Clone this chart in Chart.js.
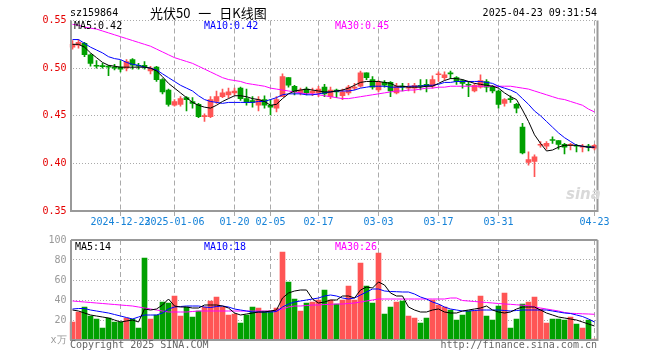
<!DOCTYPE html>
<html>
<head>
<meta charset="utf-8">
<script src="https://cdn.jsdelivr.net/npm/chart.js@4.4.1/dist/chart.umd.min.js"></script>
<style>
body { margin: 0; background: #fff; }
#wrap { position: relative; width: 660px; height: 360px; overflow: hidden;
        font-family: 'DejaVu Sans Mono', monospace; font-size: 10px; line-height: 10px; }
#wrap canvas { position: absolute; left: 0; }
.t { position: absolute; white-space: pre; }
</style>
</head>
<body>
<div id="wrap">
  <canvas id="kline" width="660" height="230" style="top:0"></canvas>
  <canvas id="vol" width="660" height="130" style="top:230px"></canvas>

  <div class="t" style="left:70px;top:8px">sz159864</div>
  <div class="t" style="left:150px;top:5px;font-family:'Noto Sans CJK SC';font-size:13px;line-height:16px;word-spacing:5px">光伏50 一 日K线图</div>
  <div class="t" style="right:63px;top:8px">2025-04-23 09:31:54</div>

  <div class="t" id="ma5Txt" style="left:74px;top:21px;color:#000"></div>
  <div class="t" id="ma10Txt" style="left:204px;top:21px;color:#00f"></div>
  <div class="t" id="ma30Txt" style="left:335px;top:21px;color:#f0f"></div>

  <div class="t" style="left:566px;top:186px;font-family:'DejaVu Sans';font-style:italic;font-weight:bold;font-size:15px;line-height:16px;color:#d9d9d9">sina</div>

  <div class="t" id="vma5Txt" style="left:75px;top:242px;color:#000"></div>
  <div class="t" id="vma10Txt" style="left:204px;top:242px;color:#00f"></div>
  <div class="t" id="vma30Txt" style="left:335px;top:242px;color:#f0f"></div>

  <div class="t" style="left:70px;top:340px;color:#666">Copyright 2025 SINA.COM</div>
  <div class="t" style="right:63px;top:340px;color:#666">http://finance.sina.com.cn</div>
</div>

<script>
// trading days shown
var dates = [
  '2024-12-11','2024-12-12','2024-12-13','2024-12-16','2024-12-17','2024-12-18','2024-12-19','2024-12-20',
  '2024-12-23','2024-12-24','2024-12-25','2024-12-26','2024-12-27','2024-12-30','2024-12-31',
  '2025-01-02','2025-01-03','2025-01-06','2025-01-07','2025-01-08','2025-01-09','2025-01-10',
  '2025-01-13','2025-01-14','2025-01-15','2025-01-16','2025-01-17',
  '2025-01-20','2025-01-21','2025-01-22','2025-01-23','2025-01-24','2025-01-27',
  '2025-02-05','2025-02-06','2025-02-07','2025-02-10','2025-02-11','2025-02-12','2025-02-13','2025-02-14',
  '2025-02-17','2025-02-18','2025-02-19','2025-02-20','2025-02-21',
  '2025-02-24','2025-02-25','2025-02-26','2025-02-27','2025-02-28',
  '2025-03-03','2025-03-04','2025-03-05','2025-03-06','2025-03-07',
  '2025-03-10','2025-03-11','2025-03-12','2025-03-13','2025-03-14',
  '2025-03-17','2025-03-18','2025-03-19','2025-03-20','2025-03-21',
  '2025-03-24','2025-03-25','2025-03-26','2025-03-27','2025-03-28',
  '2025-03-31','2025-04-01','2025-04-02','2025-04-03',
  '2025-04-07','2025-04-08','2025-04-09','2025-04-10','2025-04-11',
  '2025-04-14','2025-04-15','2025-04-16','2025-04-17','2025-04-18',
  '2025-04-21','2025-04-22','2025-04-23'
];
var tickDates  = ['2024-12-23','2025-01-06','2025-01-20','2025-02-05','2025-02-17','2025-03-03','2025-03-17','2025-03-31','2025-04-23'];
var tickLabels = ['2024-12-23','2025-01-06','01-20','02-05','02-17','03-03','03-17','03-31','04-23'];

var opens = [
  .522,.524,.526,.514,.503,.5025,.502,.501,.501,.500,
  .509,.503,.503,.497,.501,.488,.477,.461,.462,.469,
  .465,.462,.449,.449,.465,.470,.472,.474,.479,.468,
  .466,.461,.467,.461,.458,.470,.490,.481,.474,.478,
  .474,.474,.480,.470,.477,.471,.474,.479,.481,.495,
  .488,.477,.485,.485,.474,.481,.479,.479,.482,.483,
  .481,.493,.490,.495,.490,.487,.483,.476,.480,.486,
  .481,.476,.463,.468,.462,.438,.401,.402,.419,.418,
  .425,.424,.420,.419,.419,.417,.418,.416
];
var highs = [
  .529,.530,.527,.515,.508,.505,.503,.504,.508,.509,
  .510,.505,.507,.502,.502,.489,.478,.467,.470,.470,
  .469,.463,.452,.470,.476,.478,.479,.479,.480,.478,
  .470,.470,.471,.467,.470,.494,.490,.482,.479,.480,
  .479,.481,.483,.480,.478,.478,.482,.484,.497,.495,
  .491,.487,.487,.486,.484,.484,.484,.484,.488,.488,
  .492,.496,.496,.497,.491,.488,.486,.484,.493,.488,
  .482,.477,.468,.471,.463,.442,.412,.409,.423,.423,
  .428,.424,.421,.421,.420,.420,.420,.420
];
var lows = [
  .520,.521,.512,.502,.500,.500,.492,.498,.496,.497,
  .499,.499,.499,.494,.486,.473,.460,.460,.460,.455,
  .458,.448,.444,.448,.463,.469,.469,.472,.466,.461,
  .459,.455,.458,.451,.454,.470,.480,.472,.472,.472,
  .471,.470,.470,.468,.469,.467,.472,.477,.480,.488,
  .478,.475,.480,.470,.473,.476,.476,.474,.477,.475,
  .479,.486,.488,.489,.483,.479,.470,.475,.479,.475,
  .474,.458,.460,.464,.453,.410,.398,.386,.417,.415,
  .421,.415,.410,.414,.412,.412,.413,.414
];
var closes = [
  .525,.527,.514,.505,.502,.5015,.501,.500,.499,.507,
  .503,.502,.501,.500,.488,.475,.462,.465,.468,.467,
  .463,.449,.450,.467,.470,.474,.475,.476,.468,.464,
  .464,.467,.461,.459,.467,.491,.482,.475,.477,.474,
  .476,.478,.473,.477,.475,.475,.480,.480,.495,.490,
  .480,.485,.482,.476,.481,.480,.481,.482,.481,.481,
  .488,.494,.493,.494,.486,.484,.482,.482,.487,.480,
  .476,.462,.467,.467,.458,.411,.404,.407,.420,.421,
  .424,.420,.417,.420,.418,.418,.417,.419
];

var ma5 = [
  .525,.525,.522,.516,.511,.506,.503,.502,.501,.501,
  .501,.501,.501,.500,.497,.491,.484,.479,.474,.469,
  .464,.461,.459,.458,.461,.465,.468,.471,.471,.470,
  .468,.467,.465,.461,.462,.468,.473,.476,.477,.478,
  .477,.476,.475,.475,.476,.477,.479,.482,.485,.486,
  .486,.486,.485,.484,.481,.481,.480,.480,.480,.481,
  .481,.484,.487,.489,.489,.488,.486,.484,.483,.482,
  .481,.479,.474,.470,.467,.456,.444,.430,.421,.413,
  .414,.417,.419,.419,.419,.418,.417,.417
];
var ma10 = [
  .530,.530,.526,.522,.519,.516,.512,.510,.509,.506,
  .504,.503,.501,.500,.498,.494,.490,.486,.482,.479,
  .476,.471,.467,.465,.464,.463,.464,.464,.464,.464,
  .464,.465,.465,.467,.469,.472,.473,.473,.473,.472,
  .472,.473,.474,.475,.476,.476,.476,.477,.479,.480,
  .481,.481,.481,.480,.480,.480,.481,.481,.481,.482,
  .482,.483,.485,.485,.486,.486,.486,.486,.486,.485,
  .484,.481,.479,.477,.474,.468,.462,.455,.450,.444,
  .438,.432,.427,.423,.419,.418,.417,.417
];
var ma30 = [
  .546,.545,.543,.542,.541,.539,.537,.535,.533,.531,
  .529,.527,.525,.523,.520,.517,.514,.511,.509,.507,
  .505,.502,.499,.496,.493,.490,.488,.487,.486,.484,
  .483,.482,.481,.479,.478,.477,.476,.475,.474,.473,
  .473,.472,.471,.470,.469,.468,.468,.469,.470,.471,
  .472,.473,.474,.475,.476,.476,.477,.477,.478,.479,
  .479,.480,.480,.481,.481,.481,.481,.481,.481,.481,
  .481,.481,.481,.481,.480,.479,.478,.476,.474,.472,
  .470,.468,.467,.465,.463,.461,.457,.454
];

// volume, unit: 万
var volumes = [
  18,28,33,24,21,12,22,18,18,22,
  21,12,82,21,25,38,37,44,24,33,
  23,29,33,39,43,33,25,26,17,25,
  33,32,29,29,32,88,58,41,29,37,
  38,40,50,40,36,40,54,40,77,54,
  37,87,26,33,38,39,24,22,17,22,
  40,35,33,30,20,25,29,29,44,24,
  20,34,47,12,21,36,38,43,31,17,
  21,21,20,23,16,12,20,1
];
var volMa5 = [
  30,29,27,25,24,23,22,20,18,19,
  20,18,31,30,31,35,41,34,33,33,
  32,32,35,35,35,34,32,27,25,26,
  27,28,28,29,30,42,47,49,50,50,
  41,37,38,40,40,44,44,42,50,53,
  52,58,55,47,44,44,33,30,28,28,
  30,31,28,27,27,29,30,31,32,34,
  30,28,27,28,31,33,33,33,30,27,
  25,23,22,21,20,18,16,14
];
var volMa10 = [
  31,31.5,31.5,30,29,28,27,25.5,24,22.5,
  21,23,25,25,25,27,31,33,33.5,34,
  34,34,33,32.5,33.5,34,33,31,30,29,
  28,28,28,28,28.5,33,36,38,39,40,
  41,42,44,45,44,42,41,42,45,48,
  51,51,49,48.5,48.3,48,48,46,43,41,
  38,36,33,31,30,29,29,29.5,30,30,
  30,30,29.5,29,29.5,30,30,30,30,30,
  29,28,27,26.5,25,23.5,21,18
];
var volMa30 = [
  39,38.5,38,37.5,37,36.5,36,35.5,35,34.5,
  34,33,32,31,30,29,28,28,28,28,
  28.5,29,29,29,29,29,29,29,29,29,
  29,29,29,29,29.5,31,33,34,34,34.5,
  35,35,35.5,35.7,36,36,36.5,37,38,39,
  40,41,41,41,41,41,41,41,41,41,
  41,41,41,42,42,39.5,39,38.5,38,37.5,
  37,36.5,36,35.7,35.2,34.8,34.3,33,32,31,
  30,29,27.5,26.7,26.5,26.2,26,25.7
];

var RED = '#ff5555', GREEN = '#00a000';
var MONO = 'DejaVu Sans Mono';

var last = dates.length - 1;
document.getElementById('ma5Txt').textContent = 'MA5:' + ma5[last].toFixed(2);
document.getElementById('ma10Txt').textContent = 'MA10:' + ma10[last].toFixed(2);
document.getElementById('ma30Txt').textContent = 'MA30:' + ma30[last].toFixed(2);
document.getElementById('vma5Txt').textContent = 'MA5:' + Math.round(volMa5[last]);
document.getElementById('vma10Txt').textContent = 'MA10:' + Math.round(volMa10[last]);
document.getElementById('vma30Txt').textContent = 'MA30:' + Math.round(volMa30[last]);

var colors = closes.map(function(c, i) { return c >= opens[i] ? RED : GREEN; });
var wicks = lows.map(function(l, i) { return [l, highs[i]]; });
var bodies = opens.map(function(o, i) { return [Math.min(o, closes[i]), Math.max(o, closes[i])]; });

// grey frame round the plot area
var framePlugin = {
  id: 'frame',
  afterDraw: function(chart, args, opts) {
    var a = chart.chartArea, ctx = chart.ctx;
    ctx.save();
    ctx.strokeStyle = '#999';
    ctx.lineWidth = 2;
    ctx.beginPath();
    if (opts.top) {
      ctx.moveTo(a.left + 1.5, a.top);
      ctx.lineTo(a.right, a.top);
    }
    ctx.moveTo(a.left + 1.5, a.top);
    ctx.lineTo(a.left + 1.5, a.bottom);
    ctx.lineTo(a.right, a.bottom);
    ctx.lineTo(a.right, a.top);
    ctx.stroke();
    ctx.restore();
  }
};

function dateGrid(ctx) {
  return tickDates.indexOf(dates[ctx.index]) >= 0 ? '#aaa' : 'rgba(0,0,0,0)';
}

function maLine(data, color) {
  return { type: 'line', data: data, borderColor: color, borderWidth: 1,
           pointRadius: 0, tension: 0, fill: false, order: 0 };
}

new Chart(document.getElementById('kline'), {
  type: 'bar',
  data: {
    labels: dates,
    datasets: [
      maLine(ma5, '#000'),
      maLine(ma10, '#00f'),
      maLine(ma30, '#f0f'),
      { data: bodies, backgroundColor: colors, barThickness: 5, minBarLength: 1, grouped: false, order: 1 },
      { data: wicks, backgroundColor: colors, barThickness: 1, grouped: false, order: 2 }
    ]
  },
  options: {
    responsive: false,
    animation: false,
    events: [],
    layout: { padding: { left: 0, right: 62.5, top: 20.5, bottom: 0 } },
    plugins: { legend: { display: false }, tooltip: { enabled: false }, frame: { top: false } },
    scales: {
      x: {
        offset: true,
        grid: { offset: false, color: dateGrid, drawTicks: true, tickLength: 5, tickColor: dateGrid },
        border: { display: false, dash: [5, 3] },
        ticks: {
          autoSkip: false, maxRotation: 0, minRotation: 0, padding: 0,
          color: '#1582d8', font: { family: MONO, size: 10 },
          callback: function(v, i) {
            var j = tickDates.indexOf(dates[i]);
            return j < 0 ? '' : tickLabels[j];
          }
        },
        afterFit: function(s) { s.height = 19; }
      },
      y: {
        min: 0.35, max: 0.55,
        grid: { color: '#aaa', drawTicks: false },
        border: { display: false, dash: [1, 2] },
        ticks: {
          stepSize: 0.05, padding: 3, color: '#e50000', font: { family: MONO, size: 10 },
          callback: function(v) { return Number(v).toFixed(2); }
        },
        afterFit: function(s) { s.width = 69.5; }
      }
    }
  },
  plugins: [framePlugin]
});

new Chart(document.getElementById('vol'), {
  type: 'bar',
  data: {
    labels: dates,
    datasets: [
      maLine(volMa5, '#000'),
      maLine(volMa10, '#00f'),
      maLine(volMa30, '#f0f'),
      { data: volumes, backgroundColor: colors, barThickness: 5, grouped: false, order: 1 }
    ]
  },
  options: {
    responsive: false,
    animation: false,
    events: [],
    layout: { padding: { left: 0, right: 62.5, top: 10, bottom: 20 } },
    plugins: { legend: { display: false }, tooltip: { enabled: false }, frame: { top: true } },
    scales: {
      x: {
        offset: true,
        grid: { offset: false, color: dateGrid, drawTicks: false },
        border: { display: false, dash: [5, 3] },
        ticks: { display: false },
        afterFit: function(s) { s.height = 0; }
      },
      y: {
        min: 0, max: 100,
        grid: {
          drawTicks: false,
          color: function(ctx) { var v = ctx.tick.value; return v > 0 && v < 100 ? '#aaa' : 'rgba(0,0,0,0)'; }
        },
        border: { display: false, dash: [1, 2] },
        ticks: {
          stepSize: 20, padding: 3, color: '#999', font: { family: MONO, size: 10 },
          callback: function(v) { return v === 0 ? 'x万' : v; }
        },
        afterFit: function(s) { s.width = 69.5; }
      }
    }
  },
  plugins: [framePlugin]
});
</script>
</body>
</html>
